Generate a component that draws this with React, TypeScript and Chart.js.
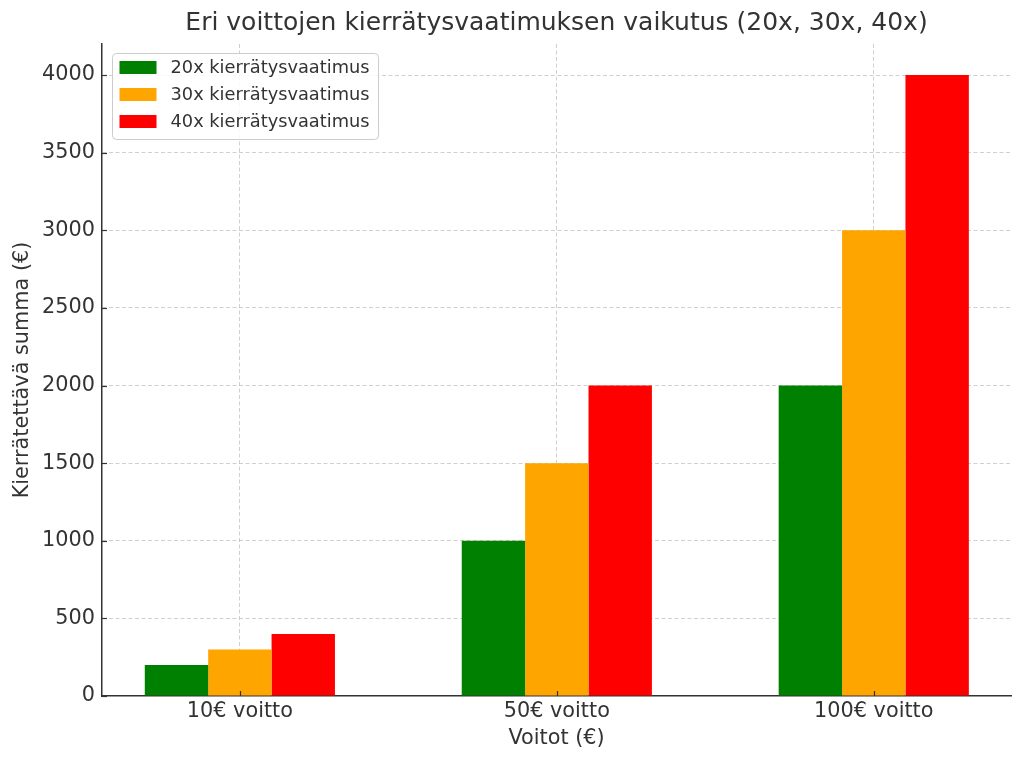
import React, { useEffect, useRef } from "react";
import { Chart, registerables } from "chart.js";

Chart.register(...registerables);

// ---- data ----
const categories = ["10€ voitto", "50€ voitto", "100€ voitto"];
const seriesLabels = ["20x kierrätysvaatimus", "30x kierrätysvaatimus", "40x kierrätysvaatimus"];
const wager20x = [200, 1000, 2000];
const wager30x = [300, 1500, 3000];
const wager40x = [400, 2000, 4000];
const seriesColors = ["#008000", "#FFA500", "#FF0000"];
const yTickValues = [0, 500, 1000, 1500, 2000, 2500, 3000, 3500, 4000];
const chartTitle = "Eri voittojen kierrätysvaatimuksen vaikutus (20x, 30x, 40x)";
const xAxisTitle = "Voitot (€)";
const yAxisTitle = "Kierrätettävä summa (€)";

const FONT = "'DejaVu Sans', sans-serif";
const TEXT = "#333333";
const SPINE = "#333333";
const GRID = "rgba(176,176,176,0.6)";

const seriesValues = [wager20x, wager30x, wager40x];

const overlayPlugin = {
  id: "overlay",
  afterDraw(chart: any) {
    const ctx = chart.ctx as CanvasRenderingContext2D;
    const { left, right, top, bottom } = chart.chartArea;
    const xs = chart.scales.x;
    const ys = chart.scales.y;
    ctx.save();
    // title centred over the plot area
    ctx.font = `25px ${FONT}`;
    ctx.fillStyle = TEXT;
    ctx.textAlign = "center";
    ctx.textBaseline = "middle";
    ctx.fillText(chartTitle, (left + right) / 2, 23);
    // inward tick marks
    ctx.strokeStyle = SPINE;
    ctx.lineWidth = 1.2;
    ys.ticks.forEach((t: any) => {
      const y = Math.round(ys.getPixelForValue(t.value)) + 0.5;
      ctx.beginPath();
      ctx.moveTo(left, y);
      ctx.lineTo(left + 5, y);
      ctx.stroke();
    });
    xs.ticks.forEach((t: any) => {
      const x = Math.round(xs.getPixelForValue(t.value)) + 0.5;
      ctx.beginPath();
      ctx.moveTo(x, bottom);
      ctx.lineTo(x, bottom - 5);
      ctx.stroke();
    });
    // legend (inside upper left)
    ctx.font = `17.8px ${FONT}`;
    const datasets = chart.data.datasets;
    let maxW = 0;
    datasets.forEach((ds: any) => {
      maxW = Math.max(maxW, ctx.measureText(ds.label).width);
    });
    const lx = left + 10.5;
    const ly = top + 9.5;
    const w = 58 + maxW + 9;
    const h = 86;
    ctx.beginPath();
    (ctx as any).roundRect(lx, ly, w, h, 4);
    ctx.fillStyle = "rgba(255,255,255,0.85)";
    ctx.fill();
    ctx.strokeStyle = "#cccccc";
    ctx.lineWidth = 1;
    ctx.stroke();
    datasets.forEach((ds: any, i: number) => {
      const cy = ly + 14 + i * 27;
      ctx.fillStyle = ds.backgroundColor;
      ctx.fillRect(lx + 7, cy - 6.5, 37, 13);
      ctx.fillStyle = TEXT;
      ctx.textBaseline = "middle";
      ctx.textAlign = "left";
      ctx.fillText(ds.label, lx + 58, cy + 0.5);
    });
    ctx.restore();
  },
};

export default function App() {
  const ref = useRef<HTMLCanvasElement>(null);
  useEffect(() => {
    document.body.style.margin = "0";
    const datasets = seriesLabels.map((label, s) => ({
      label,
      data: seriesValues[s].map((v, i) => ({ x: i, y: v })),
      backgroundColor: seriesColors[s],
      borderWidth: 0,
      categoryPercentage: 0.6,
      barPercentage: 1,
    }));
    const chart = new Chart(ref.current as HTMLCanvasElement, {
      type: "bar",
      data: { datasets } as any,
      plugins: [overlayPlugin],
      options: {
        animation: false,
        responsive: false,
        maintainAspectRatio: false,
        layout: { padding: { left: 0, right: 13, top: 44, bottom: 0 } },
        plugins: {
          legend: { display: false },
          tooltip: { enabled: false },
          title: { display: false },
        },
        scales: {
          x: {
            type: "linear",
            min: -0.435,
            max: 2.433,
            offset: false,
            z: 1,
            afterBuildTicks: (s: any) => {
              s.ticks = categories.map((_, i) => ({ value: i }));
            },
            afterFit: (s: any) => {
              s.height = 69;
            },
            ticks: {
              color: TEXT,
              font: { family: FONT, size: 20.8 },
              padding: 3,
              maxRotation: 0,
              autoSkip: false,
              callback: (v: any) => categories[Math.round(Number(v))] ?? "",
            },
            grid: {
              display: true,
              offset: false,
              color: GRID,
              lineWidth: 1,
              drawTicks: false,
              drawOnChartArea: true,
            },
            border: { display: true, color: SPINE, width: 1.5, dash: [4, 2.5] },
            title: {
              display: true,
              text: xAxisTitle,
              color: TEXT,
              font: { family: FONT, size: 20.8, lineHeight: 1.2 },
              padding: { top: 0, bottom: 14 },
            },
          },
          y: {
            type: "linear",
            min: 0,
            max: 4200,
            z: 1,
            afterBuildTicks: (s: any) => {
              s.ticks = yTickValues.map((v) => ({ value: v }));
            },
            afterFit: (s: any) => {
              s.width = 102;
            },
            ticks: {
              color: TEXT,
              font: { family: FONT, size: 20.8 },
              padding: 7,
              callback: (v: any) => String(v),
            },
            grid: {
              display: true,
              color: (c: any) => (c.tick && c.tick.value === 0 ? "rgba(0,0,0,0)" : GRID),
              lineWidth: 1,
              drawTicks: false,
            },
            border: { display: true, color: SPINE, width: 1.5, dash: [4, 2.5] },
            title: {
              display: true,
              text: yAxisTitle,
              color: TEXT,
              font: { family: FONT, size: 20.8, lineHeight: 1.2 },
              padding: { top: 10, bottom: 0 },
            },
          },
        },
      } as any,
    });
    return () => chart.destroy();
  }, []);
  return (
    <div style={{ width: 1024, height: 765 }}>
      <canvas ref={ref} width={1024} height={765} style={{ display: "block" }} />
    </div>
  );
}
